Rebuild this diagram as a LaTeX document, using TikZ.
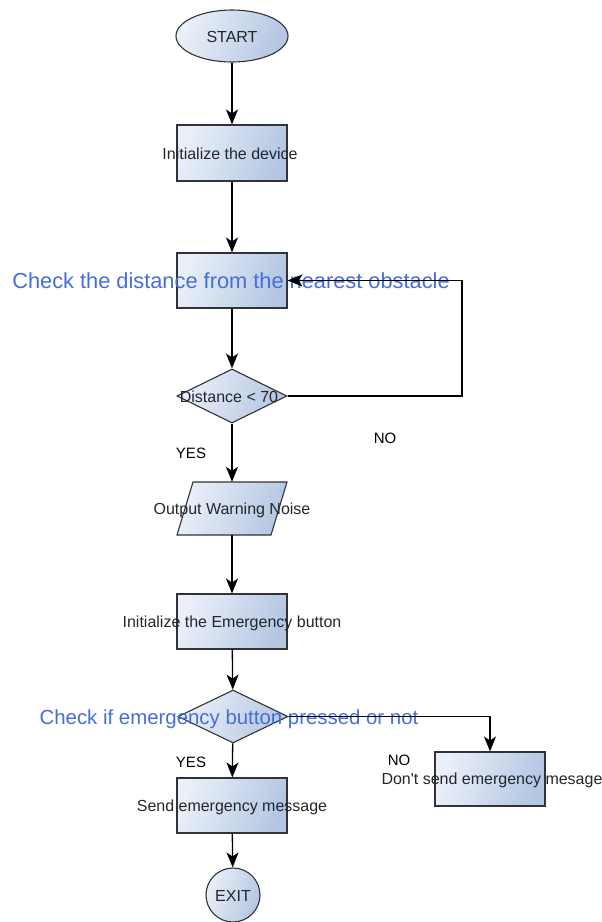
\documentclass[tikz,border=0pt]{standalone}
\usepackage{fontspec}
\setmainfont{Liberation Sans}
\usetikzlibrary{shapes.geometric,arrows.meta}
\definecolor{bordc}{RGB}{50,50,55}
\definecolor{txtc}{RGB}{35,38,45}
\definecolor{bluec}{RGB}{70,110,215}
\definecolor{fillA}{RGB}{234,240,249}
\definecolor{fillB}{RGB}{180,198,226}
\tikzset{
  shp/.style={draw=bordc, line width=1.1pt, left color=fillA, right color=fillB, shading angle=70, inner sep=0pt},
  boxnode/.style={shp, rectangle, minimum width=110pt, minimum height=55pt},
  dianode/.style={shp, diamond, minimum width=110pt, minimum height=54pt},
  lbl/.style={text=txtc, font=\fontsize{16}{18}\selectfont, inner sep=0pt},
  bluelbl/.style={text=bluec, inner sep=0pt},
  yn/.style={text=black, font=\fontsize{15}{17}\selectfont, inner sep=0pt},
  conn/.style={draw=black, line width=1.3pt, -{Stealth[length=15pt,width=12pt,inset=4pt]}}
}
\begin{document}
\begin{tikzpicture}[x=1pt,y=-1pt]
\useasboundingbox (0,0) rectangle (602,922);
% shapes
\node[shp, ellipse, minimum width=112pt, minimum height=52pt] (start) at (232,36) {};
\node[boxnode, minimum height=56pt] (b1) at (232,153) {};
\node[boxnode] (b2) at (232,280.5) {};
\node[dianode] (d1) at (232,396) {};
\node[draw=none, inner sep=0pt, minimum width=110pt, minimum height=53pt] (p1) at (232,508.5) {};
\path[shp] (193,482) -- (287,482) -- (271,535) -- (177,535) -- cycle;
\node[boxnode] (b3) at (232,621.5) {};
\node[dianode, minimum height=53pt] (d2) at (233,716.5) {};
\node[boxnode] (b4) at (232,805.5) {};
\node[boxnode, minimum height=54pt] (b5) at (490,779) {};
\node[shp, circle, minimum size=54pt] (exit) at (233,895) {};
% texts
\node[lbl] (tstart) at (232,37) {START};
\node[lbl] (t1) at (230,154) {Initialize the device};
\node[lbl] (td1) at (229,397) {Distance < 70};
\node[lbl] (tp1) at (232,510) {Output Warning Noise};
\node[lbl] (t3) at (232,623) {Initialize the Emergency button};
\node[lbl] (t4) at (232,807) {Send emergency message};
\node[lbl] (t5) at (492,780) {Don\textquotesingle t send emergency mesage};
\node[lbl] (texit) at (233,896) {EXIT};
\node[bluelbl, font=\fontsize{21.8}{24}\selectfont] (blue1) at (231,281) {Check the distance from the nearest obstacle};
\node[bluelbl, font=\fontsize{20.4}{23}\selectfont] (blue2) at (229,719) {Check if emergency button pressed or not};
\node[yn] (yes1) at (191,453) {YES};
\node[yn] (no1) at (385,438) {NO};
\node[yn] (yes2) at (191,762) {YES};
\node[yn] (no2) at (399,760) {NO};
% connectors
\coordinate (c1a) at (462,396);
\coordinate (c1b) at (462,280.5);
\coordinate (c2a) at (490,716.5);
\draw[conn] (start) -- (b1);
\draw[conn] (b1) -- (b2);
\draw[conn] (b2) -- (d1);
\draw[conn] (d1.east) -- (c1a) -- (c1b) -- (b2.east);
\draw[conn] (d1.south) -- (p1.north);
\draw[conn] (p1.south) -- (b3.north);
\draw[conn] (b3) -- (d2);
\draw[conn] (d2.east) -- (c2a) -- (b5.north);
\draw[conn] (d2) -- (b4);
\draw[conn] (b4) -- (exit);
\end{tikzpicture}
\end{document}
